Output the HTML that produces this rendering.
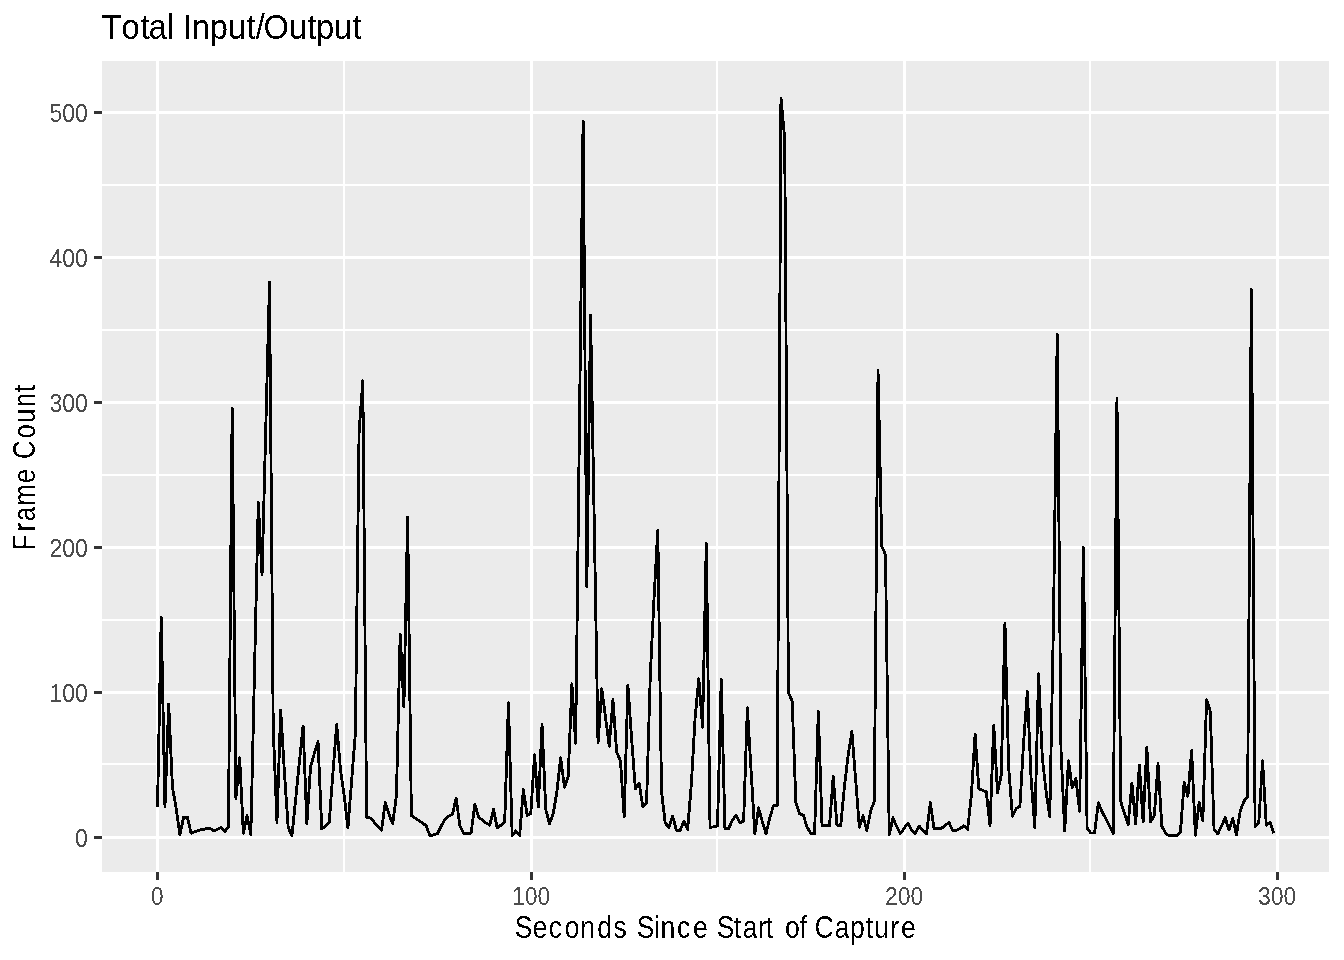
<!DOCTYPE html>
<html><head><meta charset="utf-8"><title>Total Input/Output</title>
<style>
html,body{margin:0;padding:0;background:#fff;}
body{width:1344px;height:960px;overflow:hidden;}
svg{display:block;font-family:"Liberation Sans",Arial,Helvetica,sans-serif;}
.ax{font-size:25px;fill:#4D4D4D;}
.at{font-size:29.33px;fill:#000;}
.tt{font-size:35.2px;fill:#000;}
</style></head>
<body>
<svg width="1344" height="960" viewBox="0 0 1344 960">
<defs><filter id="crisp" x="0" y="0" width="1344" height="960" filterUnits="userSpaceOnUse"><feComponentTransfer><feFuncA type="discrete" tableValues="0 1"/></feComponentTransfer></filter></defs>
<rect width="1344" height="960" fill="#fff"/>
<rect x="102" y="61" width="1227" height="811" fill="#EBEBEB"/>
<path d="M102 185H1329M102 330H1329M102 475H1329M102 620H1329M102 764H1329M344 61V872M717 61V872M1090 61V872" stroke="#FFFFFF" stroke-width="2" fill="none" shape-rendering="crispEdges"/>
<path d="M102 112.5H1329M102 257.5H1329M102 402.5H1329M102 547.5H1329M102 692.5H1329M102 837.5H1329M157.5 61V872M531.5 61V872M904.5 61V872M1277.5 61V872" stroke="#FFFFFF" stroke-width="3" fill="none" shape-rendering="crispEdges"/>
<polyline points="157.50,807.05 161.23,617.10 164.97,807.05 168.70,704.10 172.43,786.75 176.17,808.50 179.90,834.89 183.63,817.20 187.37,817.20 191.10,833.15 194.83,831.70 198.57,830.25 202.30,829.52 206.03,828.80 209.77,828.08 213.50,830.98 217.23,829.52 220.97,827.35 224.70,831.70 228.43,826.62 232.17,408.30 235.90,798.35 239.63,757.75 243.37,833.15 247.10,815.75 250.83,834.60 254.57,667.85 258.30,502.55 262.03,575.05 265.77,428.60 269.50,282.15 273.23,728.75 276.97,822.27 280.70,709.90 284.43,772.25 288.17,827.35 291.90,836.05 295.63,799.80 299.37,762.10 303.10,725.85 306.83,823.73 310.57,766.88 314.30,753.40 318.03,741.80 321.77,829.09 325.50,825.90 329.23,822.13 332.97,772.25 336.70,724.40 340.43,769.35 344.17,795.45 347.90,827.93 351.63,780.95 355.37,733.10 359.10,431.50 362.83,380.75 366.57,817.20 370.30,817.92 374.03,821.99 377.77,826.62 381.50,830.39 385.23,802.70 388.97,814.30 392.70,823.73 396.43,795.45 400.17,634.50 403.90,707.00 407.63,517.05 411.37,815.75 415.10,817.92 418.83,820.68 422.57,823.00 426.30,825.90 430.03,836.05 433.77,834.60 437.50,833.59 441.23,826.19 444.97,818.94 448.70,816.18 452.43,814.30 456.17,798.35 459.90,825.90 463.63,833.59 467.37,833.59 471.10,833.15 474.83,804.15 478.57,816.91 482.30,820.10 486.03,823.00 489.77,825.17 493.50,809.51 497.23,827.93 500.97,825.17 504.70,822.13 508.43,702.65 512.17,835.62 515.90,830.83 519.63,835.62 523.37,789.65 527.10,815.46 530.83,813.28 534.57,754.85 538.30,807.05 542.03,724.40 545.77,809.51 549.50,823.73 553.23,813.72 556.97,791.10 560.70,757.75 564.43,787.33 568.17,776.60 571.90,683.80 575.63,743.25 579.37,431.50 583.10,121.20 586.83,586.65 590.57,315.50 594.30,525.75 598.03,743.25 601.77,688.73 605.50,717.15 609.23,746.15 612.97,699.75 616.70,752.24 620.43,760.65 624.17,816.91 627.90,685.25 631.63,738.90 635.37,788.78 639.10,782.98 642.83,807.05 646.57,802.70 650.30,675.10 654.03,598.25 657.77,530.10 661.50,791.10 665.23,823.00 668.97,827.35 672.70,816.18 676.43,830.39 680.17,830.39 683.90,820.97 687.63,829.52 691.37,783.85 695.10,717.88 698.83,678.73 702.57,727.30 706.30,543.15 710.03,827.35 713.77,826.91 717.50,825.90 721.23,679.45 724.97,828.95 728.70,828.37 732.43,820.10 736.17,815.02 739.90,822.71 743.63,820.97 747.37,707.87 751.10,770.80 754.83,833.59 758.57,807.92 762.30,821.55 766.03,833.73 769.77,817.92 773.50,805.60 777.23,805.60 780.97,98.00 784.70,138.60 788.43,692.50 792.17,701.20 795.90,802.70 799.63,813.72 803.37,815.02 807.10,827.35 810.83,833.15 814.57,834.02 818.30,711.64 822.03,825.90 825.77,825.90 829.50,825.90 833.23,776.60 836.97,825.03 840.70,825.75 844.43,786.75 848.17,754.85 851.90,731.65 855.63,779.50 859.37,827.35 863.10,815.75 866.83,830.68 870.57,811.40 874.30,801.25 878.03,370.60 881.77,546.05 885.50,554.75 889.23,834.89 892.97,817.78 896.70,826.62 900.43,833.59 904.17,828.37 907.90,823.00 911.63,830.25 915.37,833.59 919.10,825.90 922.83,830.25 926.57,833.59 930.30,802.70 934.03,828.37 937.77,828.37 941.50,828.37 945.23,825.17 948.97,822.57 952.70,830.25 956.43,830.39 960.17,828.37 963.90,825.90 967.63,829.52 971.37,795.45 975.10,733.97 978.83,788.78 982.57,790.23 986.30,791.83 990.03,825.90 993.77,725.12 997.50,792.55 1001.23,775.15 1004.97,622.90 1008.70,767.90 1012.43,816.33 1016.17,808.50 1019.90,806.33 1023.63,742.09 1027.37,691.49 1031.10,778.77 1034.83,827.35 1038.57,673.65 1042.30,757.75 1046.03,791.10 1049.77,816.91 1053.50,620.00 1057.23,334.35 1060.97,749.05 1064.70,830.98 1068.43,760.65 1072.17,787.33 1075.90,778.77 1079.63,811.40 1083.37,547.50 1087.10,828.08 1090.83,833.15 1094.57,832.72 1098.30,802.70 1102.03,811.69 1105.77,818.65 1109.50,826.19 1113.23,833.59 1116.97,398.15 1120.70,801.25 1124.43,813.72 1128.17,824.74 1131.90,782.98 1135.63,823.73 1139.37,765.00 1143.10,821.55 1146.83,747.02 1150.57,821.55 1154.30,815.75 1158.03,763.55 1161.77,825.90 1165.50,833.15 1169.23,835.76 1172.97,835.76 1176.70,835.76 1180.43,832.42 1184.17,782.40 1187.90,796.17 1191.63,750.50 1195.37,835.18 1199.10,802.70 1202.83,820.68 1206.57,699.75 1210.30,711.35 1214.03,829.38 1217.77,833.88 1221.50,826.19 1225.23,817.78 1228.97,829.96 1232.70,818.36 1236.43,834.75 1240.17,811.40 1243.90,801.25 1247.63,796.90 1251.37,289.40 1255.10,826.48 1258.83,822.13 1262.57,760.65 1266.30,825.17 1270.03,822.57 1273.77,833.15" fill="none" stroke="#000" stroke-width="2.84" stroke-linejoin="round" stroke-linecap="butt" shape-rendering="crispEdges"/>
<path d="M94 112.5H102M94 257.5H102M94 402.5H102M94 547.5H102M94 692.5H102M94 837.5H102M157.5 872V880M531.5 872V880M904.5 872V880M1277.5 872V880" stroke="#333333" stroke-width="3" fill="none" shape-rendering="crispEdges"/>
<g filter="url(#crisp)">
<text transform="scale(0.92 1)" x="95.40" y="846.80" text-anchor="end" class="ax">0</text>
<text transform="scale(0.92 1)" x="95.40" y="701.80" text-anchor="end" class="ax">100</text>
<text transform="scale(0.92 1)" x="95.40" y="556.80" text-anchor="end" class="ax">200</text>
<text transform="scale(0.92 1)" x="95.40" y="411.80" text-anchor="end" class="ax">300</text>
<text transform="scale(0.92 1)" x="95.40" y="266.80" text-anchor="end" class="ax">400</text>
<text transform="scale(0.92 1)" x="95.40" y="121.80" text-anchor="end" class="ax">500</text>
<text transform="scale(0.92 1)" x="170.76" y="904.6" text-anchor="middle" class="ax">0</text>
<text transform="scale(0.92 1)" x="577.28" y="904.6" text-anchor="middle" class="ax">100</text>
<text transform="scale(0.92 1)" x="982.72" y="904.6" text-anchor="middle" class="ax">200</text>
<text transform="scale(0.92 1)" x="1388.15" y="904.6" text-anchor="middle" class="ax">300</text>
<text transform="scale(0.87 1)" x="591.60 612.38 630.77 649.18 666.83 686.42 705.13 714.28 731.95 751.87 759.12 778.24 796.64 805.79 823.79 843.33 853.88 870.96 880.00 889.15 902.17 919.22 928.37 936.15 959.51 977.11 995.06 1004.92 1023.15 1035.72" y="938.5" style="font-size:30.5px" class="at">Seconds Since Start of Capture</text>
<text transform="rotate(-90) scale(0.84 1)" x="-655.00 -632.74 -620.34 -602.03 -575.11 -565.96 -546.79 -521.88 -503.65 -484.76 -467.01" y="35.0" style="font-size:30.5px" class="at">Frame Count</text>
<text transform="scale(0.93 1)" x="109.10 130.78 151.30 159.90 179.78 190.34 196.75 206.05 225.58 245.03 265.06 274.95 283.39 310.72 330.43 339.88 358.90 379.14" y="38.9" class="tt">Total Input/Output</text>
</g>
</svg>
</body></html>
